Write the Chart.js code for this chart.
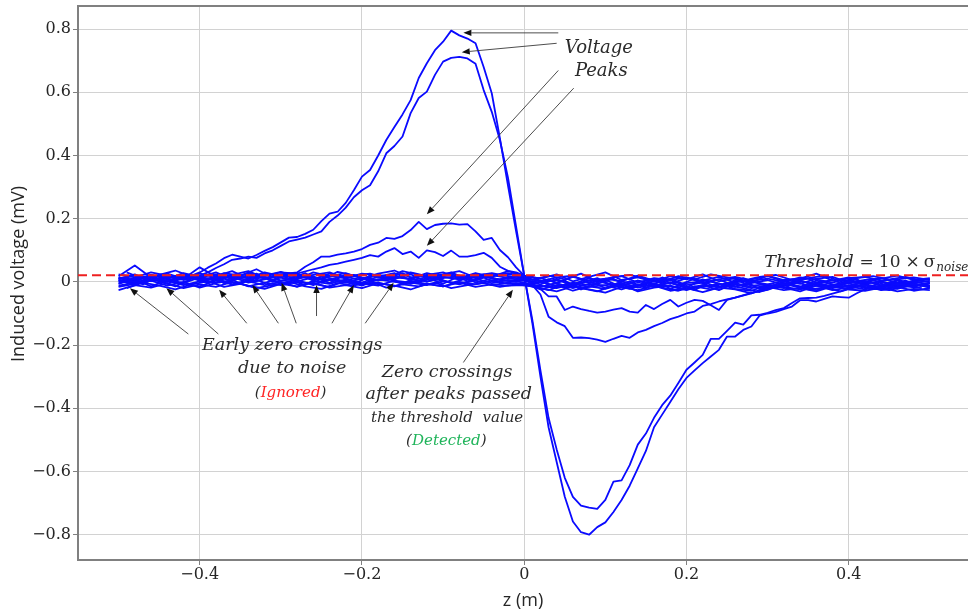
<!DOCTYPE html>
<html>
<head>
<meta charset="utf-8">
<script src="https://cdn.jsdelivr.net/npm/chart.js@4.4.1/dist/chart.umd.min.js"></script>
<style>
  html, body { margin: 0; padding: 0; background: #fff; }
  #chart { display: block; }
</style>
</head>
<body>
<canvas id="chart" width="968" height="614"></canvas>
<script>
// Induced voltage (mV) against position z (m)
const zTicks = [-0.4, -0.2, 0, 0.2, 0.4];
const vTicks = [-0.8, -0.6, -0.4, -0.2, 0, 0.2, 0.4, 0.6, 0.8];
const thresholdLevel = 0.021;

// z grids for the noise-only traces
const zNoise = [-0.5,-0.48,-0.46,-0.44,-0.42,-0.4,-0.38,-0.36,-0.34,-0.32,-0.3,-0.28,-0.26,-0.24,-0.22,-0.2,-0.18,-0.16,-0.14,-0.12,-0.1,-0.08,-0.06,-0.04,-0.02,
  0,
  0.02,0.04,0.06,0.08,0.1,0.12,0.14,0.16,0.18,0.2,0.22,0.24,0.26,0.28,0.3,0.32,0.34,0.36,0.38,0.4,0.42,0.44,0.46,0.48,0.5];
const zNoiseOdd = [-0.49,-0.47,-0.45,-0.43,-0.41,-0.39,-0.37,-0.35,-0.33,-0.31,-0.29,-0.27,-0.25,-0.23,-0.21,-0.19,-0.17,-0.15,-0.13,-0.11,-0.09,-0.07,-0.05,-0.03,-0.01,
  0.01,0.03,0.05,0.07,0.09,0.11,0.13,0.15,0.17,0.19,0.21,0.23,0.25,0.27,0.29,0.31,0.33,0.35,0.37,0.39,0.41,0.43,0.45,0.47,0.49];

const noise1 = [0.010,0.024,0.002,0.018,0.006,0.015,0.030,0.008,0.020,-0.004,0.014,0.026,0.004,0.019,0.011,-0.002,0.017,0.028,0.006,0.014,-0.006,0.018,0.005,0.022,0.012,
  0.004,
  -0.008,0.010,-0.014,0.004,-0.020,0.002,-0.010,0.008,-0.022,-0.004,0.001,-0.018,0.006,-0.012,-0.008,0.003,-0.020,-0.004,0.006,-0.014,-0.024,0.000,-0.010,0.004,-0.012];
const noise2 = [0.002,0.012,0.020,-0.006,0.016,0.008,-0.002,0.022,0.012,0.026,0.004,0.010,0.018,-0.004,0.024,0.014,0.006,0.010,0.024,0.000,0.016,0.008,0.026,0.002,0.014,
  0.010,
  0.004,-0.016,-0.002,-0.010,0.006,-0.016,0.004,-0.012,-0.002,-0.018,0.008,-0.006,-0.016,0.002,-0.008,-0.020,0.004,-0.010,-0.018,0.000,-0.008,-0.016,0.004,-0.012,-0.004];
const noise3 = [-0.012,-0.002,0.008,0.004,-0.010,0.002,0.012,-0.008,0.006,0.016,-0.004,0.006,-0.010,0.010,0.002,-0.012,0.008,0.000,-0.006,0.012,0.004,-0.008,0.010,-0.004,0.006,
  -0.002,
  -0.016,-0.004,-0.020,-0.006,-0.012,-0.024,-0.008,-0.016,-0.002,-0.020,-0.010,-0.026,-0.004,-0.016,-0.022,-0.006,-0.014,-0.026,-0.010,-0.004,-0.020,-0.012,-0.022,-0.008,-0.016];
const noise4 = [0.018,0.052,0.014,0.026,0.010,0.046,0.016,0.022,0.034,0.012,0.024,0.008,0.030,0.018,0.028,0.010,0.026,0.036,0.014,0.022,0.030,0.012,0.028,0.016,0.034,
  0.020,
  0.010,0.024,0.002,0.016,0.030,0.006,0.014,0.000,0.018,0.008,0.024,0.002,0.012,-0.002,0.020,0.006,0.010,0.026,0.004,0.014,-0.002,0.010,0.020,0.006,0.012];
const noise5 = [-0.026,-0.010,-0.018,-0.004,-0.020,-0.008,-0.016,0.000,-0.012,-0.022,-0.006,-0.014,-0.002,-0.018,-0.010,-0.020,-0.004,-0.012,-0.024,-0.006,-0.014,-0.002,-0.016,-0.008,-0.012,
  -0.010,
  -0.020,-0.030,-0.014,-0.024,-0.034,-0.016,-0.026,-0.012,-0.028,-0.020,-0.032,-0.018,-0.024,-0.036,-0.016,-0.026,-0.020,-0.030,-0.014,-0.024,-0.028,-0.018,-0.030,-0.022,-0.026];
const noise6 = [0.006,-0.004,0.014,0.000,0.020,0.004,0.010,0.016,-0.002,0.008,0.020,0.002,0.014,0.006,-0.002,0.012,0.004,0.018,0.008,0.002,0.012,0.020,-0.002,0.010,0.004,
  0.006,
  -0.002,0.006,-0.008,0.012,-0.004,-0.012,0.004,-0.006,0.010,-0.010,-0.002,0.008,-0.014,-0.004,0.006,-0.010,0.002,-0.006,-0.016,0.004,-0.006,0.002,-0.012,-0.002,0.002];
const noise7 = [0.024,0.014,0.030,0.020,0.008,0.026,0.018,0.034,0.010,0.020,0.032,0.014,0.022,0.030,0.012,0.026,0.020,0.008,0.030,0.018,0.024,0.034,0.014,0.020,0.028,
  0.016,
  0.012,-0.002,0.016,0.004,0.010,0.018,-0.002,0.012,0.006,0.014,-0.004,0.008,0.016,0.004,0.010,0.000,0.014,0.008,-0.002,0.012,0.016,0.004,0.008,0.014,0.006];
const noise8 = [-0.004,0.008,-0.014,0.006,-0.006,-0.014,0.004,-0.008,0.002,-0.010,0.000,-0.016,0.002,-0.006,0.008,-0.004,-0.012,0.004,-0.002,-0.010,0.002,-0.006,0.004,-0.010,-0.002,
  -0.008,
  -0.012,-0.020,-0.006,-0.016,-0.010,-0.004,-0.018,-0.008,-0.014,-0.026,-0.010,-0.016,-0.008,-0.020,-0.012,-0.018,-0.030,-0.012,-0.020,-0.010,-0.016,-0.024,-0.014,-0.006,-0.018];
const noise9 = [0.014,0.004,0.022,0.010,0.028,0.016,0.006,0.020,0.012,0.030,0.018,0.020,0.008,0.026,0.016,0.006,0.022,0.014,0.010,0.028,0.016,0.010,0.020,0.028,0.018,
  0.014,
  0.002,0.014,0.020,-0.004,0.010,0.002,0.020,0.004,-0.006,0.012,0.004,0.016,-0.002,0.008,0.018,0.002,-0.006,0.010,0.016,-0.002,0.006,0.012,-0.004,0.002,0.008];
const noise10 = [-0.016,-0.006,0.004,-0.012,0.000,-0.018,-0.004,0.006,-0.014,-0.002,-0.010,0.000,-0.006,-0.016,0.004,-0.008,-0.002,-0.014,0.002,-0.006,-0.014,0.000,-0.008,0.004,-0.006,
  -0.004,
  -0.024,-0.010,-0.028,-0.014,-0.022,-0.008,-0.030,-0.018,-0.012,-0.024,-0.016,-0.006,-0.022,-0.028,-0.010,-0.016,-0.024,-0.012,-0.026,-0.018,-0.010,-0.026,-0.016,-0.028,-0.020];
// these four sit on the odd grid
const noise11 = [0.012,-0.008,0.020,0.004,0.016,-0.004,0.024,0.010,0.002,0.018,0.008,0.028,-0.002,0.014,0.022,0.004,0.012,-0.006,0.020,0.010,0.026,0.002,0.016,0.008,0.018,
  -0.006,0.008,-0.018,-0.002,0.012,-0.014,0.002,-0.020,0.006,-0.010,0.010,-0.016,-0.004,0.004,-0.022,-0.008,0.008,-0.014,0.000,-0.018,-0.006,0.006,-0.016,-0.002,-0.010];
const noise12 = [-0.006,0.016,0.002,-0.014,0.010,0.022,-0.004,0.012,0.026,0.000,0.008,-0.010,0.018,0.006,-0.008,0.020,0.010,0.028,0.000,0.014,-0.004,0.012,0.022,0.006,0.000,
  0.016,-0.010,0.004,-0.024,-0.006,0.010,-0.018,-0.008,0.014,-0.004,-0.026,0.002,-0.012,0.012,-0.006,-0.020,0.000,0.010,-0.016,-0.004,0.008,-0.022,-0.010,0.004,-0.014];
const noise13 = [0.030,0.010,0.022,0.036,0.016,0.008,0.028,0.020,0.040,0.014,0.026,0.018,0.006,0.032,0.020,0.026,0.012,0.034,0.022,0.016,0.030,0.008,0.024,0.018,0.026,
  0.006,0.020,0.008,0.026,0.002,0.014,0.022,0.010,0.000,0.018,0.008,0.024,0.014,0.004,0.016,0.022,0.006,0.012,0.020,0.002,0.012,0.018,0.008,0.016,0.004];
const noise14 = [-0.020,-0.002,-0.012,-0.024,-0.008,0.002,-0.016,-0.006,-0.020,-0.010,0.000,-0.014,-0.022,-0.004,-0.012,0.002,-0.018,-0.008,-0.014,-0.002,-0.020,-0.010,-0.004,-0.016,-0.008,
  -0.014,-0.026,-0.008,-0.020,-0.030,-0.012,-0.022,-0.004,-0.018,-0.028,-0.014,-0.024,-0.010,-0.020,-0.032,-0.016,-0.008,-0.024,-0.018,-0.030,-0.012,-0.022,-0.026,-0.014,-0.020];

// traces that pass the threshold: [z, voltage] pairs
const peakA = [[-0.5,0.008],[-0.48,0.020],[-0.46,0.004],[-0.44,0.016],[-0.42,0.010],[-0.40,0.030],[-0.39,0.045],[-0.38,0.058],[-0.37,0.075],[-0.36,0.086],
  [-0.35,0.080],[-0.34,0.074],[-0.33,0.085],[-0.32,0.098],[-0.31,0.110],[-0.30,0.125],[-0.29,0.140],[-0.28,0.142],[-0.27,0.152],[-0.26,0.165],
  [-0.25,0.192],[-0.24,0.216],[-0.23,0.222],[-0.22,0.250],[-0.21,0.290],[-0.20,0.333],[-0.19,0.354],[-0.18,0.400],[-0.17,0.449],[-0.16,0.490],
  [-0.15,0.530],[-0.14,0.575],[-0.13,0.645],[-0.12,0.692],[-0.11,0.733],[-0.10,0.760],[-0.09,0.795],[-0.08,0.780],[-0.07,0.770],[-0.06,0.755],
  [-0.05,0.680],[-0.04,0.597],[-0.03,0.455],[-0.02,0.305],[-0.01,0.160],[0,0.020],[0.01,-0.130],[0.02,-0.300],[0.03,-0.460],[0.04,-0.570],
  [0.05,-0.680],[0.06,-0.758],[0.07,-0.792],[0.08,-0.800],[0.09,-0.776],[0.10,-0.761],[0.11,-0.728],[0.12,-0.690],[0.13,-0.645],[0.14,-0.590],
  [0.15,-0.535],[0.16,-0.460],[0.17,-0.420],[0.18,-0.380],[0.19,-0.340],[0.20,-0.304],[0.21,-0.280],[0.22,-0.257],[0.23,-0.236],[0.24,-0.215],
  [0.25,-0.173],[0.26,-0.173],[0.27,-0.152],[0.28,-0.141],[0.29,-0.107],[0.30,-0.100],[0.31,-0.095],[0.32,-0.086],[0.33,-0.078],[0.34,-0.058],
  [0.35,-0.058],[0.36,-0.062],[0.37,-0.054],[0.38,-0.046],[0.39,-0.048],[0.40,-0.050],[0.41,-0.036],[0.42,-0.024],[0.44,-0.012],[0.46,-0.018],
  [0.48,-0.006],[0.50,-0.014]];
const peakB = [[-0.5,-0.006],[-0.48,0.010],[-0.46,0.016],[-0.44,0.004],[-0.42,0.018],[-0.40,0.020],[-0.39,0.030],[-0.38,0.044],[-0.37,0.056],[-0.36,0.070],
  [-0.35,0.074],[-0.34,0.080],[-0.33,0.076],[-0.32,0.090],[-0.31,0.100],[-0.30,0.114],[-0.29,0.128],[-0.28,0.134],[-0.27,0.140],[-0.26,0.150],
  [-0.25,0.160],[-0.24,0.190],[-0.23,0.210],[-0.22,0.235],[-0.21,0.268],[-0.20,0.290],[-0.19,0.306],[-0.18,0.350],[-0.17,0.407],[-0.16,0.430],
  [-0.15,0.460],[-0.14,0.534],[-0.13,0.582],[-0.12,0.602],[-0.11,0.655],[-0.10,0.697],[-0.09,0.709],[-0.08,0.712],[-0.07,0.707],[-0.06,0.690],
  [-0.05,0.607],[-0.04,0.538],[-0.03,0.449],[-0.02,0.330],[-0.01,0.175],[0,0.020],[0.01,-0.120],[0.02,-0.280],[0.03,-0.430],[0.04,-0.530],
  [0.05,-0.620],[0.06,-0.680],[0.07,-0.708],[0.08,-0.714],[0.09,-0.718],[0.10,-0.690],[0.11,-0.632],[0.12,-0.628],[0.13,-0.580],[0.14,-0.515],
  [0.15,-0.480],[0.16,-0.430],[0.17,-0.390],[0.18,-0.360],[0.19,-0.320],[0.20,-0.278],[0.21,-0.255],[0.22,-0.231],[0.23,-0.180],[0.24,-0.180],
  [0.25,-0.155],[0.26,-0.129],[0.27,-0.135],[0.28,-0.106],[0.29,-0.104],[0.30,-0.098],[0.31,-0.089],[0.32,-0.083],[0.33,-0.067],[0.34,-0.052],
  [0.35,-0.051],[0.36,-0.050],[0.37,-0.044],[0.38,-0.037],[0.39,-0.030],[0.40,-0.023],[0.42,-0.010],[0.44,-0.020],[0.46,-0.006],[0.48,-0.016],
  [0.50,-0.004]];
const peakC = [[-0.5,0.004],[-0.48,-0.008],[-0.46,0.014],[-0.44,0.002],[-0.42,0.020],[-0.40,0.006],[-0.38,0.016],[-0.36,0.004],[-0.34,0.022],[-0.32,0.010],
  [-0.30,0.024],[-0.28,0.030],[-0.27,0.048],[-0.26,0.062],[-0.25,0.080],[-0.24,0.080],[-0.23,0.086],[-0.22,0.090],[-0.21,0.096],[-0.20,0.104],
  [-0.19,0.117],[-0.18,0.124],[-0.17,0.139],[-0.16,0.136],[-0.15,0.145],[-0.14,0.164],[-0.13,0.190],[-0.12,0.167],[-0.11,0.180],[-0.10,0.184],
  [-0.09,0.185],[-0.08,0.181],[-0.07,0.183],[-0.06,0.160],[-0.05,0.133],[-0.04,0.139],[-0.03,0.101],[-0.02,0.078],[-0.01,0.046],[0,0.020],
  [0.01,-0.010],[0.02,-0.040],[0.03,-0.110],[0.04,-0.128],[0.05,-0.140],[0.06,-0.177],[0.07,-0.176],[0.08,-0.178],[0.09,-0.183],[0.10,-0.190],
  [0.11,-0.180],[0.12,-0.171],[0.13,-0.177],[0.14,-0.160],[0.15,-0.152],[0.16,-0.140],[0.17,-0.130],[0.18,-0.118],[0.19,-0.110],[0.20,-0.100],
  [0.21,-0.094],[0.22,-0.076],[0.23,-0.070],[0.24,-0.062],[0.25,-0.055],[0.26,-0.050],[0.28,-0.035],[0.30,-0.025],[0.32,-0.006],[0.34,-0.018],
  [0.36,-0.002],[0.38,-0.014],[0.40,0.002],[0.42,-0.010],[0.44,-0.020],[0.46,-0.004],[0.48,-0.012],[0.50,-0.002]];
const peakD = [[-0.5,0.012],[-0.48,0.000],[-0.46,0.022],[-0.44,0.008],[-0.42,-0.004],[-0.40,0.014],[-0.38,0.024],[-0.36,0.010],[-0.34,0.028],[-0.32,0.018],
  [-0.30,0.030],[-0.28,0.026],[-0.26,0.040],[-0.25,0.046],[-0.24,0.054],[-0.23,0.058],[-0.22,0.064],[-0.21,0.070],[-0.20,0.076],[-0.19,0.085],
  [-0.18,0.080],[-0.17,0.096],[-0.16,0.107],[-0.15,0.088],[-0.14,0.096],[-0.13,0.076],[-0.12,0.100],[-0.11,0.094],[-0.10,0.082],[-0.09,0.099],
  [-0.08,0.080],[-0.07,0.080],[-0.06,0.085],[-0.05,0.092],[-0.04,0.076],[-0.03,0.048],[-0.02,0.035],[-0.01,0.030],[0,0.020],[0.01,-0.006],
  [0.02,-0.022],[0.03,-0.046],[0.04,-0.046],[0.05,-0.089],[0.06,-0.078],[0.07,-0.086],[0.08,-0.092],[0.09,-0.097],[0.10,-0.094],[0.11,-0.088],
  [0.12,-0.083],[0.13,-0.094],[0.14,-0.097],[0.15,-0.073],[0.16,-0.086],[0.17,-0.070],[0.18,-0.057],[0.19,-0.078],[0.20,-0.066],[0.21,-0.057],
  [0.22,-0.060],[0.23,-0.074],[0.24,-0.089],[0.25,-0.057],[0.26,-0.050],[0.28,-0.036],[0.30,-0.020],[0.32,-0.004],[0.34,-0.016],[0.36,0.004],
  [0.38,-0.008],[0.40,-0.016],[0.42,0.002],[0.44,-0.010],[0.46,0.006],[0.48,-0.006],[0.50,-0.012]];

const noiseEven = [noise1, noise2, noise3, noise4, noise5, noise6, noise7, noise8, noise9, noise10];
const noiseOdd = [noise11, noise12, noise13, noise14];
const peakTraces = [peakA, peakB, peakC, peakD];

// annotation arrows in data units: [zTail, vTail, zHead, vHead]
const peakArrows = [[0.042,0.788,-0.075,0.788],[0.040,0.755,-0.077,0.727],[0.042,0.669,-0.120,0.214],[0.061,0.613,-0.120,0.114]];
const earlyArrows = [[-0.414,-0.165,-0.486,-0.020],[-0.377,-0.165,-0.441,-0.020],[-0.342,-0.131,-0.376,-0.025],[-0.303,-0.131,-0.335,-0.010],
  [-0.281,-0.131,-0.299,-0.003],[-0.256,-0.108,-0.256,-0.010],[-0.237,-0.131,-0.210,-0.010],[-0.196,-0.131,-0.161,-0.003]];
const detectArrows = [[-0.075,-0.255,-0.014,-0.025]];

const BLUE = 'rgb(10,10,255)';
const INK = '#2b2b2b';
const SERIF = '"DejaVu Serif", serif';

function fmtTick(v) {
    const r = Math.round(v * 10) / 10;
    if (r === 0) return '0';
    const s = Math.abs(r).toFixed(1);
    return r < 0 ? '\u2212' + s : s;
}

function lineSet(points) {
    return {
        data: points,
        showLine: true,
        borderColor: BLUE,
        borderWidth: 1.8,
        borderJoinStyle: 'round',
        pointRadius: 0,
        pointHoverRadius: 0,
        tension: 0
    };
}

const datasets = [];
// threshold first so it is painted on top
datasets.push({
    data: [{x: -0.55, y: thresholdLevel}, {x: 0.547, y: thresholdLevel}],
    showLine: true,
    borderColor: '#ee2020',
    borderWidth: 2,
    borderDash: [9, 5],
    pointRadius: 0
});
peakTraces.forEach(tr => datasets.push(lineSet(tr.map(p => ({x: p[0], y: p[1]})))));
noiseEven.forEach(tr => datasets.push(lineSet(tr.map((v, i) => ({x: zNoise[i], y: v})))));
noiseOdd.forEach(tr => datasets.push(lineSet(tr.map((v, i) => ({x: zNoiseOdd[i], y: v})))));

// text notes, centred on (z, v)
const notes = [
    {z: 0.092, v: 0.723, size: 18, parts: [['Voltage', INK]]},
    {z: 0.095, v: 0.652, size: 18, parts: [['Peaks', INK]]},
    {z: -0.286, v: -0.217, size: 17.5, parts: [['Early zero crossings', INK]]},
    {z: -0.286, v: -0.289, size: 17.5, parts: [['due to noise', INK]]},
    {z: -0.288, v: -0.363, size: 15, parts: [['(', INK], ['Ignored', '#ff2424'], [')', INK]]},
    {z: -0.095, v: -0.300, size: 17.5, parts: [['Zero crossings', INK]]},
    {z: -0.093, v: -0.371, size: 17.5, parts: [['after peaks passed', INK]]},
    {z: -0.095, v: -0.442, size: 15, parts: [['the threshold  value', INK]]},
    {z: -0.096, v: -0.516, size: 15, parts: [['(', INK], ['Detected', '#1fb45a'], [')', INK]]}
];

function drawArrow(ctx, x1, y1, x2, y2) {
    const a = Math.atan2(y2 - y1, x2 - x1);
    const len = 8, half = 3.2;
    const bx = x2 - len * Math.cos(a), by = y2 - len * Math.sin(a);
    ctx.beginPath();
    ctx.moveTo(x1, y1);
    ctx.lineTo(bx, by);
    ctx.stroke();
    ctx.beginPath();
    ctx.moveTo(x2, y2);
    ctx.lineTo(bx + half * Math.sin(a), by - half * Math.cos(a));
    ctx.lineTo(bx - half * Math.sin(a), by + half * Math.cos(a));
    ctx.closePath();
    ctx.fill();
}

const annotate = {
    id: 'annotate',
    afterDraw(chart) {
        const {ctx, chartArea, scales} = chart;
        const X = scales.x, Y = scales.y;
        ctx.save();

        // top spine
        ctx.strokeStyle = '#808080';
        ctx.lineWidth = 2;
        ctx.beginPath();
        ctx.moveTo(chartArea.left - 1, chartArea.top);
        ctx.lineTo(chartArea.right, chartArea.top);
        ctx.stroke();

        // y axis title
        ctx.save();
        ctx.translate(19, (chartArea.top + chartArea.bottom) / 2 - 9);
        ctx.rotate(-Math.PI / 2);
        ctx.font = '18px "Open Sans", sans-serif';
        ctx.fillStyle = '#262626';
        ctx.textAlign = 'center';
        ctx.textBaseline = 'middle';
        ctx.fillText('Induced voltage (mV)', 0, 0);
        ctx.restore();

        // arrows
        ctx.strokeStyle = '#3a3a3a';
        ctx.fillStyle = '#111';
        ctx.lineWidth = 0.9;
        [...peakArrows, ...earlyArrows, ...detectArrows].forEach(a => {
            drawArrow(ctx, X.getPixelForValue(a[0]), Y.getPixelForValue(a[1]),
                X.getPixelForValue(a[2]), Y.getPixelForValue(a[3]));
        });

        // centred notes
        ctx.textBaseline = 'alphabetic';
        ctx.textAlign = 'left';
        notes.forEach(n => {
            ctx.font = 'italic ' + n.size + 'px ' + SERIF;
            const total = n.parts.reduce((s, p) => s + ctx.measureText(p[0]).width, 0);
            let x = X.getPixelForValue(n.z) - total / 2;
            const y = Y.getPixelForValue(n.v);
            n.parts.forEach(p => {
                ctx.fillStyle = p[1];
                ctx.fillText(p[0], x, y);
                x += ctx.measureText(p[0]).width;
            });
        });

        // threshold label: Threshold = 10 x sigma_noise
        let tx = X.getPixelForValue(0.296);
        const ty = Y.getPixelForValue(0.048);
        const pieces = [
            ['Threshold', 'italic 17.5px ' + SERIF, 0, 6],
            ['=', '17px ' + SERIF, 0, 5],
            ['10', '17px ' + SERIF, 0, 5],
            ['\u00d7', '17px ' + SERIF, 0, 4],
            ['\u03c3', '17px ' + SERIF, 0, 1],
            ['noise', 'italic 12px ' + SERIF, 4, 0]
        ];
        ctx.fillStyle = INK;
        pieces.forEach(p => {
            ctx.font = p[1];
            ctx.fillText(p[0], tx, ty + p[2]);
            tx += ctx.measureText(p[0]).width + p[3];
        });

        ctx.restore();
    }
};

new Chart(document.getElementById('chart'), {
    type: 'scatter',
    data: {datasets},
    options: {
        responsive: false,
        devicePixelRatio: 1,
        animation: false,
        events: [],
        layout: {padding: {top: 6, right: 0, bottom: 0, left: 0}},
        plugins: {legend: {display: false}, tooltip: {enabled: false}},
        scales: {
            x: {
                type: 'linear',
                min: -0.55,
                max: 0.547,
                afterBuildTicks: s => { s.ticks = zTicks.map(v => ({value: v})); },
                afterFit: s => { s.height = 54; s.paddingLeft = 0; s.paddingRight = 0; },
                ticks: {
                    callback: fmtTick,
                    font: {family: 'DejaVu Serif', size: 16},
                    color: '#262626',
                    padding: 0,
                    maxRotation: 0
                },
                grid: {color: '#d2d2d2', lineWidth: 1, tickLength: 5, tickColor: '#808080'},
                border: {color: '#808080', width: 2},
                title: {
                    display: true,
                    text: 'z (m)',
                    font: {family: 'Open Sans', size: 18},
                    color: '#262626',
                    padding: {top: 0, bottom: 2}
                }
            },
            y: {
                type: 'linear',
                min: -0.88,
                max: 0.873,
                afterBuildTicks: s => { s.ticks = vTicks.map(v => ({value: v})); },
                afterFit: s => { s.width = 78; s.paddingTop = 0; s.paddingBottom = 0; },
                ticks: {
                    callback: fmtTick,
                    font: {family: 'DejaVu Serif', size: 16},
                    color: '#262626',
                    padding: 2
                },
                grid: {color: '#d2d2d2', lineWidth: 1, tickLength: 5, tickColor: '#808080'},
                border: {color: '#808080', width: 2}
            }
        }
    },
    plugins: [annotate]
});
</script>
</body>
</html>
